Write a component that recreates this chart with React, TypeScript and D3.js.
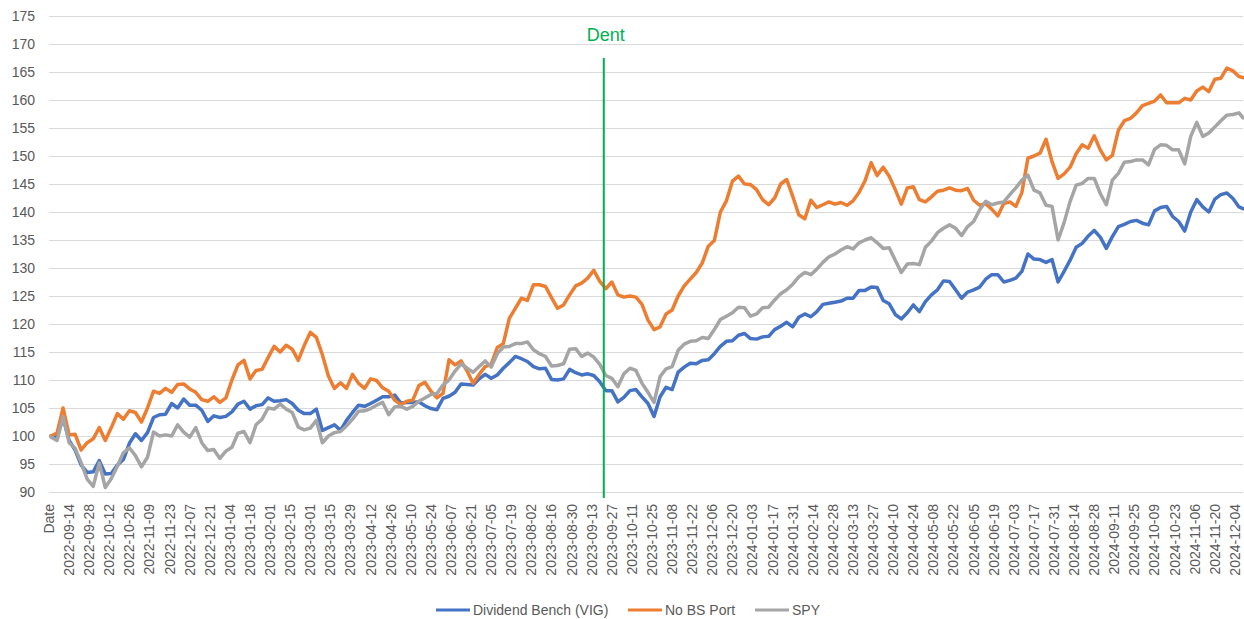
import React from "react";
import * as d3 from "d3";

// category axis labels, one every 10 categories (first one is the header cell)
const tickLabels = [
  "Date",
  "2022-09-14", "2022-09-28", "2022-10-12", "2022-10-26", "2022-11-09", "2022-11-23", "2022-12-07", "2022-12-21",
  "2023-01-04", "2023-01-18", "2023-02-01", "2023-02-15", "2023-03-01", "2023-03-15", "2023-03-29", "2023-04-12",
  "2023-04-26", "2023-05-10", "2023-05-24", "2023-06-07", "2023-06-21", "2023-07-05", "2023-07-19", "2023-08-02",
  "2023-08-16", "2023-08-30", "2023-09-13", "2023-09-27", "2023-10-11", "2023-10-25", "2023-11-08", "2023-11-22",
  "2023-12-06", "2023-12-20", "2024-01-03", "2024-01-17", "2024-01-31", "2024-02-14", "2024-02-28", "2024-03-13",
  "2024-03-27", "2024-04-10", "2024-04-24", "2024-05-08", "2024-05-22", "2024-06-05", "2024-06-19", "2024-07-03",
  "2024-07-17", "2024-07-31", "2024-08-14", "2024-08-28", "2024-09-11", "2024-09-25", "2024-10-09", "2024-10-23",
  "2024-11-06", "2024-11-20", "2024-12-04",
];
const LABEL_EVERY = 10;
const CATEGORY_COUNT = 595;
const SAMPLE_START = 1; // values start after the "Date" category
const SAMPLE_STEP = 3; // one value every 3 categories
const DENT_INDEX = 276;
const DENT_LABEL = "Dent";

const yTicks = d3.range(90, 176, 5);

const vig = [
  100, 99.8, 103.3, 99.2, 97.5, 94.8, 93.5, 93.6, 95.6, 93.2,
  93.3, 94.8, 95.8, 98.7, 100.4, 99.2, 100.6, 103.3, 103.8, 103.9,
  105.8, 105, 106.6, 105.5, 105.5, 104.6, 102.6, 103.6, 103.3, 103.5,
  104.3, 105.7, 106.2, 104.8, 105.4, 105.6, 106.8, 106.2, 106.3, 106.5,
  105.8, 104.6, 104, 104, 104.8, 101, 101.5, 102, 101, 102.8,
  104.2, 105.5, 105.3, 105.8, 106.4, 107, 107, 107.3, 105.9, 106,
  106, 106.1, 105.4, 104.9, 104.7, 106.7, 107.1, 107.8, 109.3, 109.2,
  109.1, 110.2, 111, 110.3, 110.9, 112.1, 113.1, 114.2, 113.8, 113.3,
  112.4, 112, 112.1, 110.1, 110, 110.2, 111.9, 111.3, 110.9, 111.1,
  110.8, 109.7, 108.1, 108.1, 106.1, 106.9, 108.1, 108.3, 107, 105.8,
  103.5, 107, 108.7, 108.3, 111.4, 112.3, 113, 112.9, 113.5, 113.6,
  114.7, 116, 116.9, 117, 118, 118.3, 117.4, 117.3, 117.7, 117.8,
  119, 119.6, 120.3, 119.5, 121.2, 121.8, 121.3, 122.2, 123.5, 123.7,
  123.9, 124.1, 124.6, 124.6, 126, 126, 126.6, 126.5, 124.2, 123.6,
  121.7, 120.9, 122, 123.4, 122.2, 124, 125.2, 126.1, 127.7, 127.6,
  126.1, 124.6, 125.7, 126.1, 126.6, 128, 128.8, 128.8, 127.5, 127.8,
  128.2, 129.4, 132.5, 131.6, 131.5, 131, 131.5, 127.5, 129.4, 131.4,
  133.7, 134.4, 135.7, 136.7, 135.5, 133.5, 135.6, 137.4, 137.8, 138.3,
  138.5, 138, 137.7, 140.2, 140.8, 141, 139.2, 138.3, 136.6, 140,
  142.2, 140.9, 140, 142.3, 143.1, 143.4, 142.4, 140.9, 140.6,
];

const noBsPort = [
  100, 100.5, 105, 100.2, 100.3, 97.5, 98.8, 99.5, 101.5, 99.2,
  101.5, 104, 103, 104.5, 104.2, 102.5, 105, 108, 107.6, 108.5,
  107.8, 109.2, 109.3, 108.4, 107.8, 106.5, 106.2, 107, 106, 106.8,
  110, 112.7, 113.5, 110.2, 111.7, 111.9, 114, 116, 115, 116.2,
  115.5, 113.5, 116.2, 118.5, 117.6, 114.5, 110.7, 108.5, 109.5, 108.5,
  111, 109.4, 108.5, 110.2, 109.9, 108.6, 108, 106.4, 105.6, 106.2,
  106.4, 109, 109.6, 108, 106.8, 107.6, 113.6, 112.7, 113.4, 111.6,
  109.4, 111, 112.4, 112.8, 115.8, 116.5, 121, 122.8, 124.6, 124.2,
  127, 127, 126.7, 124.7, 122.8, 123.4, 125.2, 126.8, 127.3, 128.2,
  129.6, 127.6, 126.3, 127.5, 125.2, 124.8, 125, 124.8, 123.5, 120.7,
  119, 119.5, 121.8, 122.5, 125, 126.8, 128, 129.2, 130.9, 133.9,
  134.9, 140, 142, 145.5, 146.4, 145, 144.9, 144, 142.2, 141.3,
  142.5, 145, 145.8, 142.8, 139.5, 138.8, 142.1, 140.8, 141.3, 141.8,
  141.4, 141.7, 141.2, 142, 143.5, 145.6, 148.8, 146.5, 148, 146.4,
  144, 141.4, 144.3, 144.5, 142.2, 141.8, 142.7, 143.7, 143.9, 144.3,
  143.9, 143.8, 144.2, 142.1, 141.2, 141.5, 140.5, 139.3, 141.5, 141.8,
  141, 143.5, 149.6, 150, 150.5, 153, 149, 146, 146.8, 148,
  150.4, 152, 151.4, 153.6, 151.1, 149.3, 150.1, 154.6, 156.3, 156.7,
  157.7, 159, 159.4, 159.8, 160.9, 159.5, 159.5, 159.5, 160.3, 160,
  161.6, 162.3, 161.5, 163.7, 163.9, 165.7, 165.2, 164.2, 164,
];

const spy = [
  99.8, 99.2, 103.5, 98.8, 97.8, 95.2, 92.3, 91, 95.2, 90.8,
  92.4, 94.6, 97, 97.9, 96.5, 94.5, 96.2, 100.7, 100, 100.2,
  100, 102, 100.7, 99.8, 101.5, 98.8, 97.4, 97.6, 96, 97.3,
  98, 100.5, 100.8, 98.8, 102, 103, 105, 104.8, 105.7, 104.8,
  104.2, 101.6, 101.1, 101.4, 102.8, 98.8, 100, 100.6, 100.8, 101.8,
  103, 104.4, 104.5, 104.9, 105.5, 106, 103.8, 105.2, 105.3, 104.8,
  105.3, 106.2, 106.8, 107.4, 107.6, 109.1, 110, 111.6, 112.9, 112.1,
  111.4, 112.4, 113.4, 112.3, 114.7, 115.9, 116, 116.5, 116.5, 116.8,
  115.4, 114.7, 114.2, 112.5, 112.6, 112.9, 115.5, 115.6, 114.2, 114.8,
  114.1, 112.8, 110.8, 110.3, 108.8, 111.1, 112.1, 111.7, 109.4, 107.8,
  106, 110.6, 112, 112.4, 115.3, 116.4, 116.9, 117, 117.6, 117.4,
  119, 120.8, 121.4, 122, 123, 122.9, 121.4, 121.8, 122.9, 123,
  124.3, 125.4, 126.1, 127.1, 128.4, 129.2, 128.8, 129.8, 131, 132,
  132.5, 133.2, 133.8, 133.4, 134.5, 135, 135.4, 134.5, 133.5, 133.6,
  131.4, 129.2, 130.7, 130.8, 130.6, 133.7, 134.8, 136.3, 137.1, 137.7,
  137.1, 135.8, 137.4, 138.3, 140.4, 141.9, 141.3, 141.6, 141.8, 143.1,
  144.3, 145.7, 146.6, 143.9, 143.4, 141.2, 141, 135, 138.1, 141.9,
  144.8, 145.1, 146, 146, 143.3, 141.3, 145.7, 146.9, 148.9, 149,
  149.3, 149.3, 148.4, 151.2, 152, 151.9, 151.1, 151.1, 148.6, 153.5,
  156, 153.5, 154.1, 155.2, 156.3, 157.3, 157.4, 157.7, 156.8,
];

const seriesNames = ["Dividend Bench (VIG)", "No BS Port", "SPY"];
const seriesValues = [vig, noBsPort, spy];
const seriesColors = ["#4472c4", "#ed7d31", "#a5a5a5"];

const W = 1244;
const H = 619;
const plot = { left: 49, right: 1243, top: 16, bottom: 492 };
const FONT = "'Liberation Sans', Arial, sans-serif";
const TEXT = "#595959";

export default function App() {
  const x = d3.scaleLinear().domain([0, CATEGORY_COUNT - 1]).range([plot.left, plot.right]);
  const y = d3.scaleLinear().domain([90, 175]).range([plot.bottom, plot.top]);

  const catOf = (k: number) => Math.min(SAMPLE_START + k * SAMPLE_STEP, CATEGORY_COUNT - 1);
  const line = d3
    .line<number>()
    .x((_, k) => x(catOf(k)))
    .y((d) => y(d));

  // legend placement (Excel style, centered at bottom)
  const legendStarts = [436, 628, 755];
  const legendY = 610;

  return (
    <svg
      width={W}
      height={H}
      style={{ position: "absolute", left: 0, top: 0, background: "#fff", fontFamily: FONT }}
    >
      {/* gridlines */}
      {yTicks.map((t) => (
        <line
          key={"g" + t}
          x1={plot.left}
          x2={plot.right}
          y1={Math.round(y(t)) + 0.5}
          y2={Math.round(y(t)) + 0.5}
          stroke="#d9d9d9"
          strokeWidth={1}
        />
      ))}
      {/* y labels */}
      {yTicks.map((t) => (
        <text key={"y" + t} x={35} y={y(t)} dy="0.35em" textAnchor="end" fontSize={14} fill={TEXT}>
          {t}
        </text>
      ))}
      {/* x labels */}
      {tickLabels.map((lab, j) => {
        const cx = x(j * LABEL_EVERY);
        return (
          <text
            key={"x" + j}
            transform={`translate(${cx},504) rotate(-90)`}
            dy="0.35em"
            textAnchor="end"
            fontSize={14}
            fill={TEXT}
          >
            {lab}
          </text>
        );
      })}
      {/* series */}
      {seriesValues.map((vals, s) => (
        <path
          key={"s" + s}
          d={line(vals) || ""}
          fill="none"
          stroke={seriesColors[s]}
          strokeWidth={3.5}
          strokeLinejoin="round"
          strokeLinecap="round"
        />
      ))}
      {/* event marker */}
      <line x1={x(DENT_INDEX)} x2={x(DENT_INDEX)} y1={58} y2={498} stroke="#00b050" strokeWidth={2} />
      <text x={x(DENT_INDEX) + 2} y={41} textAnchor="middle" fontSize={18} fill="#00b050">
        {DENT_LABEL}
      </text>
      {/* legend */}
      {seriesNames.map((name, s) => (
        <g key={"l" + s} transform={`translate(${legendStarts[s]},${legendY})`}>
          <line x1={0} x2={34} y1={0} y2={0} stroke={seriesColors[s]} strokeWidth={3} />
          <text x={37} y={0} dy="0.35em" fontSize={14} fill={TEXT}>
            {name}
          </text>
        </g>
      ))}
    </svg>
  );
}
